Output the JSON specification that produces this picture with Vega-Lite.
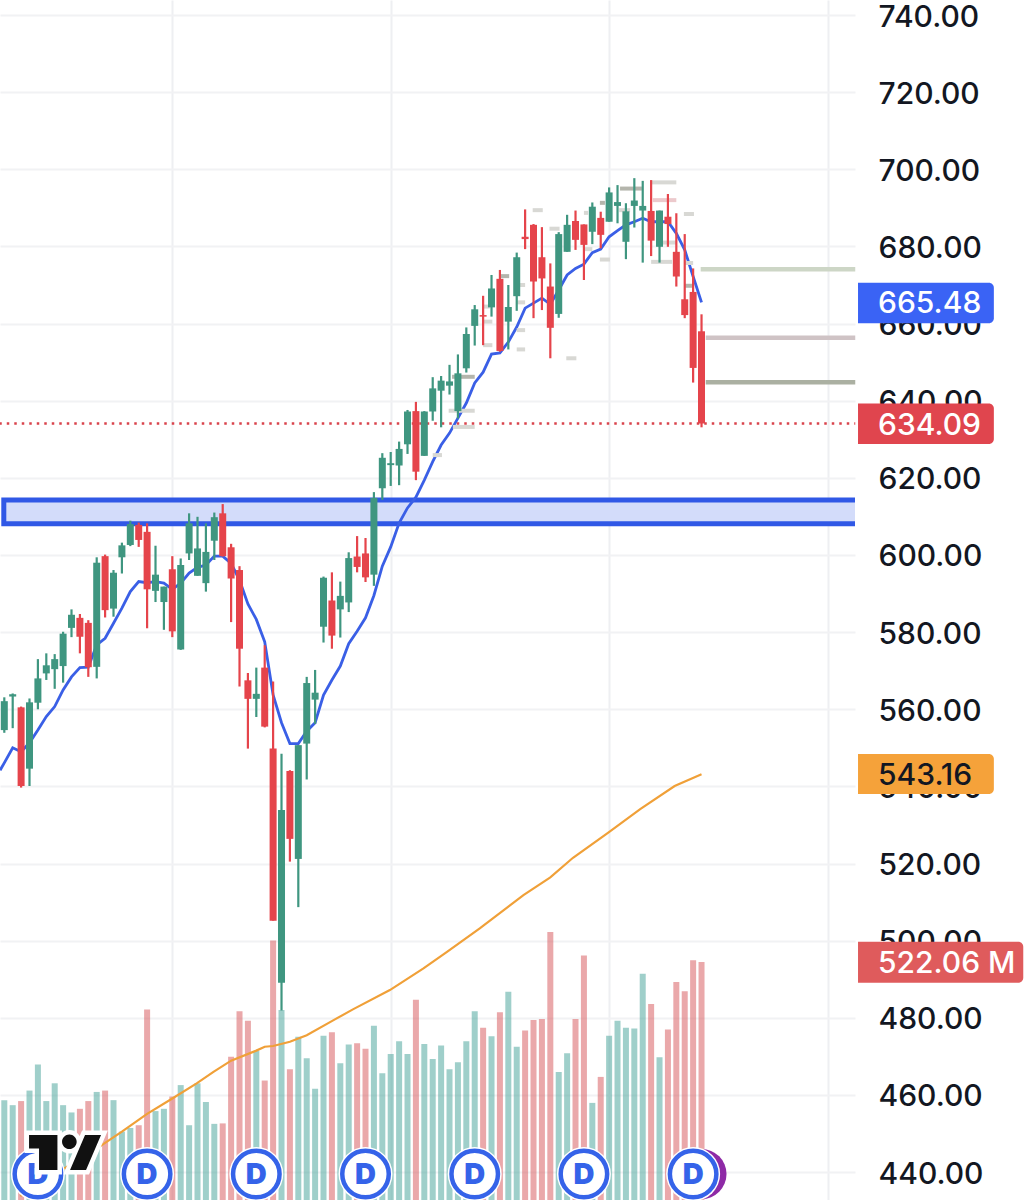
{
  "$schema": "https://vega.github.io/schema/vega-lite/v6.json",
  "width": 855,
  "height": 1200,
  "autosize": "none",
  "padding": {"left": 0, "top": 0, "right": 178, "bottom": 0},
  "background": "#ffffff",
  "view": {"stroke": null},
  "datasets": {
    "candles": [
      {"i":0,"dir":"up","open":554.6,"high":563.1,"low":553.9,"close":562.1,"volume":219},
      {"i":1,"dir":"up","open":563.3,"high":564.1,"low":555.1,"close":563.9,"volume":208},
      {"i":2,"dir":"down","open":560.5,"high":560.7,"low":539.7,"close":540.1,"volume":217},
      {"i":3,"dir":"up","open":544.6,"high":562.8,"low":540.1,"close":561.8,"volume":240},
      {"i":4,"dir":"up","open":561.7,"high":573.0,"low":560.0,"close":568.0,"volume":297},
      {"i":5,"dir":"up","open":569.3,"high":574.5,"low":567.6,"close":571.4,"volume":217},
      {"i":6,"dir":"up","open":570.4,"high":574.3,"low":565.3,"close":573.0,"volume":256},
      {"i":7,"dir":"up","open":571.2,"high":580.1,"low":566.9,"close":579.6,"volume":208},
      {"i":8,"dir":"up","open":581.1,"high":585.9,"low":578.7,"close":584.5,"volume":192},
      {"i":9,"dir":"down","open":583.7,"high":584.7,"low":574.5,"close":578.8,"volume":200},
      {"i":10,"dir":"down","open":582.4,"high":583.1,"low":568.4,"close":570.9,"volume":217},
      {"i":11,"dir":"up","open":571.0,"high":599.4,"low":568.0,"close":598.0,"volume":237},
      {"i":12,"dir":"down","open":599.7,"high":600.1,"low":583.8,"close":585.7,"volume":240},
      {"i":13,"dir":"up","open":586.1,"high":596.1,"low":584.0,"close":595.4,"volume":219},
      {"i":14,"dir":"up","open":599.4,"high":603.2,"low":595.2,"close":602.5,"volume":150},
      {"i":15,"dir":"up","open":602.6,"high":608.9,"low":602.3,"close":608.0,"volume":158},
      {"i":16,"dir":"down","open":607.8,"high":608.4,"low":602.1,"close":603.9,"volume":164},
      {"i":17,"dir":"down","open":606.0,"high":608.2,"low":581.0,"close":591.1,"volume":418},
      {"i":18,"dir":"up","open":590.7,"high":602.4,"low":587.8,"close":594.9,"volume":195},
      {"i":19,"dir":"up","open":587.8,"high":591.8,"low":580.6,"close":591.8,"volume":200},
      {"i":20,"dir":"down","open":596.3,"high":599.7,"low":578.7,"close":580.2,"volume":227},
      {"i":21,"dir":"up","open":575.5,"high":599.1,"low":575.4,"close":597.4,"volume":252},
      {"i":22,"dir":"up","open":600.4,"high":610.8,"low":598.7,"close":608.2,"volume":164},
      {"i":23,"dir":"up","open":594.6,"high":609.9,"low":594.6,"close":601.7,"volume":256},
      {"i":24,"dir":"up","open":592.7,"high":608.2,"low":590.5,"close":600.8,"volume":215},
      {"i":25,"dir":"up","open":603.7,"high":611.0,"low":598.7,"close":609.8,"volume":167},
      {"i":26,"dir":"down","open":610.8,"high":613.2,"low":599.6,"close":599.7,"volume":168},
      {"i":27,"dir":"down","open":602.0,"high":602.9,"low":582.6,"close":593.9,"volume":314},
      {"i":28,"dir":"down","open":596.1,"high":597.1,"low":565.9,"close":575.7,"volume":414},
      {"i":29,"dir":"down","open":567.5,"high":569.4,"low":549.8,"close":562.7,"volume":393},
      {"i":30,"dir":"up","open":562.7,"high":570.8,"low":558.0,"close":564.0,"volume":327},
      {"i":31,"dir":"down","open":570.8,"high":576.6,"low":555.3,"close":555.5,"volume":262},
      {"i":32,"dir":"down","open":549.8,"high":567.2,"low":505.2,"close":505.2,"volume":569},
      {"i":33,"dir":"up","open":489.1,"high":548.5,"low":481.9,"close":533.9,"volume":417},
      {"i":34,"dir":"down","open":544.0,"high":544.2,"low":520.5,"close":526.4,"volume":287},
      {"i":35,"dir":"up","open":521.2,"high":550.7,"low":508.7,"close":550.7,"volume":358},
      {"i":36,"dir":"up","open":551.1,"high":568.4,"low":541.8,"close":566.8,"volume":311},
      {"i":37,"dir":"up","open":562.5,"high":570.2,"low":556.2,"close":564.3,"volume":244},
      {"i":38,"dir":"up","open":581.4,"high":594.4,"low":577.3,"close":594.1,"volume":360},
      {"i":39,"dir":"down","open":588.2,"high":595.5,"low":575.7,"close":579.1,"volume":368},
      {"i":40,"dir":"up","open":585.9,"high":593.1,"low":578.6,"close":589.4,"volume":300},
      {"i":41,"dir":"up","open":587.7,"high":600.7,"low":585.2,"close":599.2,"volume":341},
      {"i":42,"dir":"down","open":599.6,"high":604.9,"low":595.5,"close":596.9,"volume":344},
      {"i":43,"dir":"down","open":600.4,"high":604.4,"low":593.0,"close":594.2,"volume":332},
      {"i":44,"dir":"up","open":594.9,"high":616.3,"low":592.0,"close":614.8,"volume":382},
      {"i":45,"dir":"up","open":617.3,"high":626.4,"low":614.3,"close":625.2,"volume":278},
      {"i":46,"dir":"up","open":623.3,"high":626.7,"low":617.9,"close":623.8,"volume":320},
      {"i":47,"dir":"up","open":623.2,"high":629.4,"low":618.1,"close":627.5,"volume":348},
      {"i":48,"dir":"up","open":628.7,"high":637.6,"low":626.2,"close":637.2,"volume":320},
      {"i":49,"dir":"down","open":637.3,"high":639.7,"low":619.4,"close":621.6,"volume":439},
      {"i":50,"dir":"up","open":625.7,"high":637.3,"low":625.7,"close":637.2,"volume":342},
      {"i":51,"dir":"up","open":637.2,"high":646.1,"low":634.8,"close":643.2,"volume":309},
      {"i":52,"dir":"up","open":642.6,"high":646.4,"low":633.1,"close":645.2,"volume":339},
      {"i":53,"dir":"up","open":643.9,"high":649.3,"low":641.6,"close":645.0,"volume":287},
      {"i":54,"dir":"up","open":637.3,"high":652.0,"low":635.4,"close":647.1,"volume":302},
      {"i":55,"dir":"up","open":648.4,"high":659.0,"low":647.3,"close":657.3,"volume":348},
      {"i":56,"dir":"up","open":659.4,"high":664.8,"low":654.3,"close":663.7,"volume":414},
      {"i":57,"dir":"down","open":662.2,"high":667.2,"low":654.4,"close":661.8,"volume":378},
      {"i":58,"dir":"up","open":664.2,"high":672.6,"low":661.8,"close":669.1,"volume":359},
      {"i":59,"dir":"down","open":671.6,"high":673.9,"low":652.7,"close":652.9,"volume":412},
      {"i":60,"dir":"up","open":660.5,"high":670.0,"low":653.3,"close":664.3,"volume":457},
      {"i":61,"dir":"up","open":667.1,"high":678.4,"low":663.3,"close":677.2,"volume":336},
      {"i":62,"dir":"down","open":682.5,"high":689.6,"low":679.3,"close":681.9,"volume":372},
      {"i":63,"dir":"down","open":685.6,"high":685.8,"low":661.4,"close":670.9,"volume":395},
      {"i":64,"dir":"down","open":677.2,"high":685.0,"low":663.5,"close":671.7,"volume":397},
      {"i":65,"dir":"down","open":669.6,"high":675.6,"low":651.0,"close":658.9,"volume":588},
      {"i":66,"dir":"up","open":662.5,"high":683.7,"low":661.5,"close":683.2,"volume":281},
      {"i":67,"dir":"up","open":678.6,"high":688.2,"low":678.6,"close":685.6,"volume":322},
      {"i":68,"dir":"down","open":686.6,"high":689.3,"low":679.1,"close":681.7,"volume":397},
      {"i":69,"dir":"down","open":685.7,"high":685.7,"low":671.3,"close":680.4,"volume":536},
      {"i":70,"dir":"up","open":683.8,"high":691.4,"low":680.6,"close":690.3,"volume":213},
      {"i":71,"dir":"down","open":687.4,"high":689.0,"low":679.5,"close":683.0,"volume":270},
      {"i":72,"dir":"up","open":686.4,"high":695.3,"low":686.4,"close":694.0,"volume":360},
      {"i":73,"dir":"up","open":690.5,"high":695.9,"low":686.0,"close":691.5,"volume":393},
      {"i":74,"dir":"up","open":681.2,"high":691.2,"low":676.7,"close":689.1,"volume":378},
      {"i":75,"dir":"up","open":690.5,"high":697.7,"low":684.9,"close":691.9,"volume":376},
      {"i":76,"dir":"up","open":689.3,"high":697.0,"low":675.8,"close":690.5,"volume":496},
      {"i":77,"dir":"down","open":689.2,"high":697.2,"low":677.5,"close":681.5,"volume":430},
      {"i":78,"dir":"up","open":679.9,"high":689.3,"low":675.8,"close":689.3,"volume":313},
      {"i":79,"dir":"down","open":687.7,"high":693.6,"low":679.9,"close":685.8,"volume":374},
      {"i":80,"dir":"down","open":678.6,"high":688.6,"low":669.6,"close":672.2,"volume":478},
      {"i":81,"dir":"down","open":666.3,"high":683.2,"low":661.4,"close":662.2,"volume":458},
      {"i":82,"dir":"down","open":668.2,"high":674.3,"low":644.7,"close":648.5,"volume":526},
      {"i":83,"dir":"down","open":658.0,"high":662.4,"low":633.1,"close":634.09,"volume":522.06}
    ],
    "ma20": [
      {"i":-0.5,"p":544.2},{"i":0,"p":546.1},{"i":1,"p":550.0},{"i":2,"p":549.0},{"i":3,"p":551.3},{"i":4,"p":554.6},{"i":5,"p":558.1},{"i":6,"p":560.7},{"i":7,"p":565.0},{"i":8,"p":568.4},{"i":9,"p":570.8},
      {"i":10,"p":570.9},{"i":11,"p":576.7},{"i":12,"p":578.4},{"i":13,"p":582.3},{"i":14,"p":586.2},{"i":15,"p":590.5},{"i":16,"p":593.1},{"i":17,"p":592.8},{"i":18,"p":593.1},{"i":19,"p":592.7},
      {"i":20,"p":591.1},{"i":21,"p":592.7},{"i":22,"p":595.3},{"i":23,"p":596.8},{"i":24,"p":597.4},{"i":25,"p":599.7},{"i":26,"p":599.7},{"i":27,"p":597.8},{"i":28,"p":593.5},{"i":29,"p":587.3},
      {"i":30,"p":583.3},{"i":31,"p":577.5},{"i":32,"p":563.7},{"i":33,"p":556.5},{"i":34,"p":551.1},{"i":35,"p":551.1},{"i":36,"p":554.3},{"i":37,"p":556.5},{"i":38,"p":563.7},{"i":39,"p":567.6},
      {"i":40,"p":571.2},{"i":41,"p":577.0},{"i":42,"p":580.2},{"i":43,"p":583.7},{"i":44,"p":589.5},{"i":45,"p":597.1},{"i":46,"p":602.1},{"i":47,"p":608.3},{"i":48,"p":612.2},{"i":49,"p":615.0},
      {"i":50,"p":619.4},{"i":51,"p":624.2},{"i":52,"p":628.5},{"i":53,"p":631.6},{"i":54,"p":635.5},{"i":55,"p":639.4},{"i":56,"p":644.6},{"i":57,"p":647.4},{"i":58,"p":652.1},{"i":59,"p":652.4},
      {"i":60,"p":655.2},{"i":61,"p":659.1},{"i":62,"p":664.0},{"i":63,"p":665.3},{"i":64,"p":666.6},{"i":65,"p":665.0},{"i":66,"p":668.7},{"i":67,"p":672.6},{"i":68,"p":674.3},{"i":69,"p":675.4},
      {"i":70,"p":678.4},{"i":71,"p":679.3},{"i":72,"p":682.5},{"i":73,"p":684.1},{"i":74,"p":685.6},{"i":75,"p":686.4},{"i":76,"p":687.3},{"i":77,"p":686.4},{"i":78,"p":686.4},{"i":79,"p":686.4},
      {"i":80,"p":683.4},{"i":81,"p":679.1},{"i":82,"p":672.2},{"i":83,"p":665.48}
    ],
    "ma200": [
      {"i":1.9,"p":433.8},{"i":11.6,"p":447.0},{"i":14,"p":450.5},{"i":17,"p":455.1},{"i":20,"p":459.1},{"i":22.9,"p":463.0},{"i":24.9,"p":466.0},{"i":27,"p":468.9},{"i":30,"p":471.5},{"i":31,"p":472.5},
      {"i":32,"p":472.7},{"i":34,"p":473.8},{"i":36,"p":475.5},{"i":39.2,"p":479.4},{"i":41.5,"p":482.2},{"i":45.9,"p":487.2},{"i":49.9,"p":492.8},{"i":52.7,"p":497.1},{"i":56.6,"p":503.2},
      {"i":61.8,"p":511.8},{"i":65,"p":516.4},{"i":67.7,"p":521.5},{"i":71.9,"p":528.0},{"i":75.7,"p":534.1},{"i":79.8,"p":540.1},{"i":83,"p":543.16}
    ],
    "levels": [
      {"kind":"last","i":-0.6,"i2":101.3,"p":634.09},
      {"kind":"a","i":82.9,"i2":101.3,"p":674.1},
      {"kind":"b","i":83.5,"i2":101.3,"p":656.3},
      {"kind":"c","i":83.5,"i2":101.3,"p":644.8}
    ],
    "notes": [
      {"tone":"light","i":52.9,"i2":56.0,"p":637.4},{"tone":"dark","i":53.3,"i2":56.0,"p":646.2},{"tone":"light","i":53.4,"i2":56.0,"p":633.2},{"tone":"light","i":51.0,"i2":52.1,"p":625.9},
      {"tone":"light","i":57.0,"i2":58.1,"p":654.4},{"tone":"light","i":57.1,"i2":58.1,"p":660.5},{"tone":"light","i":57.1,"i2":57.8,"p":664.4},{"tone":"dark","i":59.1,"i2":60.1,"p":672.3},
      {"tone":"light","i":61.0,"i2":62.0,"p":653.3},{"tone":"light","i":61.0,"i2":62.0,"p":658.3},{"tone":"light","i":61.0,"i2":62.0,"p":665.5},{"tone":"light","i":61.4,"i2":62.0,"p":670.0},
      {"tone":"light","i":62.9,"i2":64.1,"p":689.4},{"tone":"light","i":64.9,"i2":66.1,"p":684.6},{"tone":"light","i":66.9,"i2":68.1,"p":651.0},{"tone":"light","i":69.1,"i2":70.0,"p":679.3},
      {"tone":"light","i":70.9,"i2":72.1,"p":676.6},{"tone":"light","i":69.0,"i2":69.5,"p":688.7},{"tone":"dark","i":70.9,"i2":71.5,"p":691.3},{"tone":"dark","i":73.3,"i2":75.9,"p":695.0},
      {"tone":"light","i":73.2,"i2":74.5,"p":689.4},{"tone":"light","i":77.1,"i2":80.0,"p":696.6},{"tone":"pink","i":77.2,"i2":80.0,"p":692.0},{"tone":"light","i":77.0,"i2":79.5,"p":676.0},
      {"tone":"light","i":78.4,"i2":80.0,"p":681.0},{"tone":"light","i":80.9,"i2":82.1,"p":688.4},{"tone":"light","i":81.0,"i2":82.0,"p":675.7},{"tone":"dark","i":81.0,"i2":82.0,"p":669.8}
    ],
    "tags": [
      {"kind":"ma20","label":"665.48","i":101.63,"i2":117.8,"p":665.48,"top":670.6,"bottom":660.1},
      {"kind":"last","label":"634.09","i":101.63,"i2":117.8,"p":634.09,"top":639.3,"bottom":628.8},
      {"kind":"ma200","label":"543.16","i":101.63,"i2":117.8,"p":543.16,"top":548.4,"bottom":538.0},
      {"kind":"volume","label":"522.06 M","i":101.63,"i2":121.3,"p":494.4,"top":499.7,"bottom":489.1}
    ],
    "dividends": [
      {"i":4,"p":439.5},{"i":17,"p":439.5},{"i":30,"p":439.5},{"i":43,"p":439.5},{"i":56,"p":439.5},{"i":69,"p":439.5},{"i":82,"p":439.5}
    ]
  },
  "encoding": {
    "x": {
      "field": "i",
      "type": "quantitative",
      "scale": {"domain": [-0.512, 101.27], "nice": false, "zero": false, "padding": 0},
      "axis": {"values": [20, 46, 72, 98], "grid": true, "gridColor": "#eeeff2", "gridWidth": 2, "labels": false, "ticks": false, "domain": false, "title": null}
    },
    "y": {
      "field": "p",
      "type": "quantitative",
      "scale": {"domain": [432.77, 743.89], "nice": false, "zero": false},
      "axis": {
        "orient": "right",
        "values": [440, 460, 480, 500, 520, 540, 560, 580, 600, 620, 640, 660, 680, 700, 720, 740],
        "format": ".2f",
        "title": null,
        "grid": true,
        "gridColor": "#f1f2f4",
        "gridWidth": 2,
        "ticks": false,
        "domain": false,
        "labelPadding": 23,
        "labelOffset": 2,
        "labelFont": "Inter",
        "labelFontSize": 30,
        "labelFontWeight": 500,
        "labelColor": "#131722",
        "labelOverlap": false,
        "labelBound": false,
        "labelFlush": false
      }
    }
  },
  "layer": [
    {
      "data": {"name": "candles"},
      "mark": {"type": "bar", "size": 6, "clip": true, "opacity": 0.5},
      "encoding": {
        "y": {"field": "volume", "type": "quantitative", "scale": {"domain": [0, 2632], "nice": false, "zero": false}, "axis": null},
        "color": {"field": "dir", "type": "nominal", "scale": {"domain": ["up", "down"], "range": ["#409f95", "#d55255"]}, "legend": null}
      }
    },
    {
      "layer": [
        {
          "data": {"values": [{"i": -0.06, "i2": 110, "p": 614.25, "p2": 608.1}]},
          "mark": {"type": "rect", "fill": "#d3dcfa", "stroke": "#3058e6", "strokeWidth": 5, "clip": true},
          "encoding": {"x2": {"field": "i2"}, "y2": {"field": "p2"}}
        },
        {
          "data": {"name": "ma200"},
          "mark": {"type": "line", "color": "#f0a038", "strokeWidth": 2.2}
        },
        {
          "data": {"name": "ma20"},
          "mark": {"type": "line", "color": "#3a5fe6", "strokeWidth": 2.8}
        },
        {
          "data": {"name": "levels"},
          "transform": [{"filter": "datum.kind != 'last'"}],
          "mark": {"type": "rule", "size": 4.5},
          "encoding": {
            "x2": {"field": "i2"},
            "color": {"field": "kind", "type": "nominal", "scale": {"domain": ["a", "b", "c"], "range": ["#cdd6c6", "#cfc3c5", "#abb0a2"]}, "legend": null}
          }
        },
        {
          "data": {"name": "notes"},
          "mark": {"type": "rule", "size": 4},
          "encoding": {
            "x2": {"field": "i2"},
            "color": {"field": "tone", "type": "nominal", "scale": {"domain": ["light", "dark", "pink"], "range": ["#d8d8d4", "#b4b5ac", "#ecc9cc"]}, "legend": null}
          }
        },
        {
          "data": {"name": "levels"},
          "transform": [{"filter": "datum.kind == 'last'"}],
          "mark": {"type": "rule", "size": 2.5, "color": "#d9434c", "strokeDash": [2.5, 5]},
          "encoding": {"x2": {"field": "i2"}}
        },
        {
          "data": {"name": "candles"},
          "mark": {"type": "rule", "size": 2.2},
          "encoding": {
            "y": {"field": "low", "type": "quantitative"},
            "y2": {"field": "high"},
            "color": {"field": "dir", "type": "nominal", "scale": {"domain": ["up", "down"], "range": ["#3f9680", "#e5444b"]}, "legend": null}
          }
        },
        {
          "data": {"name": "candles"},
          "mark": {"type": "rule", "size": 7},
          "encoding": {
            "y": {"field": "open", "type": "quantitative"},
            "y2": {"field": "close"},
            "color": {"field": "dir", "type": "nominal", "scale": {"domain": ["up", "down"], "range": ["#3f9680", "#e5444b"]}, "legend": null}
          }
        },
        {
          "data": {"name": "tags"},
          "mark": {"type": "rect", "cornerRadiusTopRight": 5, "cornerRadiusBottomRight": 5},
          "encoding": {
            "x2": {"field": "i2"},
            "y": {"field": "top", "type": "quantitative"},
            "y2": {"field": "bottom"},
            "color": {"field": "kind", "type": "nominal", "scale": {"domain": ["ma20", "last", "ma200", "volume"], "range": ["#3a63f5", "#e0454e", "#f5a23a", "#df5b5c"]}, "legend": null}
          }
        },
        {
          "data": {"name": "tags"},
          "mark": {"type": "text", "font": "Inter", "fontSize": 30, "fontWeight": 500, "align": "left", "baseline": "middle", "dx": 20, "dy": 2},
          "encoding": {
            "text": {"field": "label"},
            "color": {"field": "kind", "type": "nominal", "scale": {"domain": ["ma20", "last", "ma200", "volume"], "range": ["#ffffff", "#ffffff", "#131722", "#ffffff"]}, "legend": null}
          }
        },
        {
          "data": {"values": [{"i": 83, "p": 439.5}]},
          "mark": {"type": "point", "shape": "circle", "filled": true, "color": "#8e2aa6", "size": 2500, "opacity": 1}
        },
        {
          "data": {"name": "dividends"},
          "mark": {"type": "point", "shape": "circle", "filled": true, "color": "#ffffff", "size": 2916, "opacity": 1}
        },
        {
          "data": {"name": "dividends"},
          "mark": {"type": "point", "shape": "circle", "fill": "#ffffff", "stroke": "#3563e9", "strokeWidth": 4.5, "size": 2162, "opacity": 1}
        },
        {
          "data": {"name": "dividends"},
          "mark": {"type": "text", "text": "D", "font": "Inter", "fontSize": 29, "fontWeight": 900, "color": "#3563e9", "baseline": "middle", "align": "center", "dy": 1}
        },
        {
          "data": {"values": [{"i": 7.23, "p": 445.1}]},
          "mark": {"type": "point", "shape": "M-0.9,-0.433L-0.19,-0.433L-0.19,0.442L-0.65,0.442L-0.65,-0.1L-0.9,-0.1ZM-0.075,-0.267a0.183,0.183 0 1,0 0.366,0a0.183,0.183 0 1,0 -0.366,0ZM0.5,-0.433L0.9,-0.433L0.525,0.442L0.125,0.442Z", "fill": "#ffffff", "stroke": "#ffffff", "strokeWidth": 9, "size": 6400, "opacity": 1}
        },
        {
          "data": {"values": [{"i": 7.23, "p": 445.1}]},
          "mark": {"type": "point", "shape": "M-0.9,-0.433L-0.19,-0.433L-0.19,0.442L-0.65,0.442L-0.65,-0.1L-0.9,-0.1ZM-0.075,-0.267a0.183,0.183 0 1,0 0.366,0a0.183,0.183 0 1,0 -0.366,0ZM0.5,-0.433L0.9,-0.433L0.525,0.442L0.125,0.442Z", "filled": true, "color": "#111111", "size": 6400, "opacity": 1}
        }
      ],
      "resolve": {"scale": {"color": "independent"}}
    }
  ],
  "resolve": {"scale": {"y": "independent", "color": "independent"}}
}
